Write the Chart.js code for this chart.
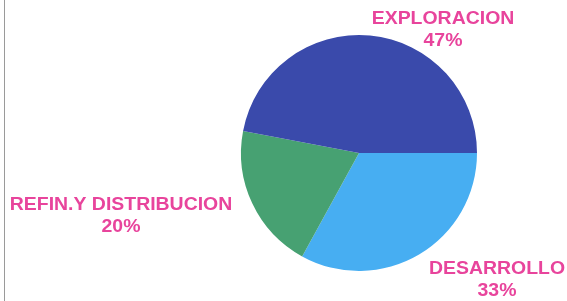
<!DOCTYPE html>
<html>
<head>
<meta charset="utf-8">
<script src="https://cdn.jsdelivr.net/npm/chart.js@4"></script>
<style>
  html, body { margin: 0; padding: 0; background: #fff; }
  #wrap { position: relative; width: 567px; height: 301px; }
  #borde { position: absolute; left: 4px; top: 0; width: 1px; height: 301px; background: #9a9a9a; }
</style>
</head>
<body>
<div id="wrap">
  <canvas id="chartInversion" width="567" height="301"></canvas>
  <div id="borde"></div>
</div>
<script>
// Datos del grafico (orden horario desde las 3 en punto)
const categorias = ['DESARROLLO', 'REFIN.Y DISTRIBUCION', 'EXPLORACION'];
const porcentajes = [33, 20, 47];
const colores = ['#47aef2', '#47a172', '#3a4aab'];

// Posicion de cada etiqueta, relativa al centro de la torta
const offsetsEtiquetas = [
    { dx: 138, dy: 116 },
    { dx: -238, dy: 52 },
    { dx: 84, dy: -134 }
];

// Plugin para dibujar las etiquetas en rosa
const etiquetasPlugin = {
    id: 'etiquetas',
    afterDraw(chart) {
        const ctx = chart.ctx;
        const arc = chart.getDatasetMeta(0).data[0];
        const cx = arc.x, cy = arc.y;
        ctx.save();
        ctx.fillStyle = '#e8449c';
        ctx.font = 'bold 18px "Liberation Sans", Arial, sans-serif';
        ctx.textAlign = 'center';
        ctx.textBaseline = 'middle';
        categorias.forEach((cat, i) => {
            const o = offsetsEtiquetas[i];
            ctx.save();
            ctx.translate(cx + o.dx, cy + o.dy);
            ctx.scale(1.08, 1);
            ctx.fillText(cat, 0, 0);
            ctx.fillText(porcentajes[i] + '%', 0, 22);
            ctx.restore();
        });
        ctx.restore();
    }
};

const ctxInversion = document.getElementById('chartInversion').getContext('2d');
new Chart(ctxInversion, {
    type: 'pie',
    data: {
        labels: categorias,
        datasets: [{
            data: porcentajes,
            backgroundColor: colores,
            borderWidth: 0
        }]
    },
    options: {
        responsive: false,
        animation: false,
        rotation: 90,
        layout: { padding: { left: 241, right: 90, top: 35, bottom: 30 } },
        plugins: {
            legend: { display: false },
            tooltip: { enabled: false }
        }
    },
    plugins: [etiquetasPlugin]
});
</script>
</body>
</html>
